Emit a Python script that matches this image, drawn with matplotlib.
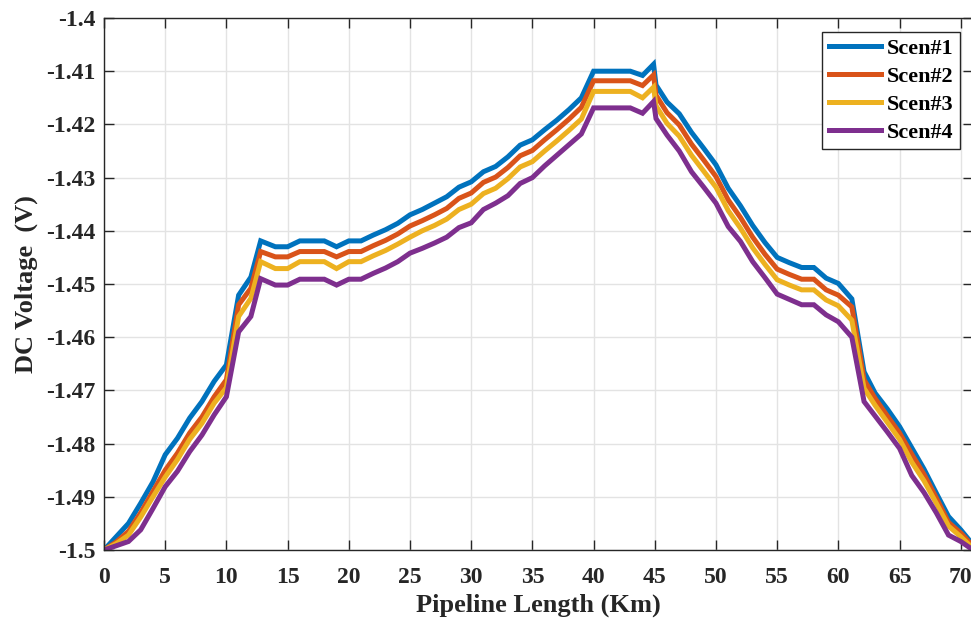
import matplotlib
matplotlib.use("Agg")
import matplotlib.pyplot as plt
from matplotlib.ticker import FuncFormatter

plt.rcParams['font.family'] = ['Liberation Serif', 'DejaVu Serif']
plt.rcParams['axes.unicode_minus'] = False

x_km = [0, 1, 2, 3, 4, 5, 6, 7, 8, 9, 10, 11, 12, 12.8, 14, 15, 16, 17, 18, 19, 20,
        21, 22, 23, 24, 25, 26, 27, 28, 29, 30, 31, 32, 33, 34, 35, 36, 37, 38, 39, 40,
        41, 42, 43, 44, 44.9, 45.1, 46, 47, 48, 49, 50, 51, 52, 53, 54, 55, 56, 57, 58,
        59, 60, 61.1, 62.1, 63, 64, 65, 66, 67, 68, 69, 70, 71]

scen1 = [-1.5, -1.4975, -1.4950, -1.4912, -1.4872, -1.4821, -1.4790, -1.4752, -1.4721, -1.4683, -1.4652,
         -1.4521, -1.4487, -1.4419, -1.4430, -1.4430, -1.4419, -1.4419, -1.4419, -1.4430, -1.4419,
         -1.4419, -1.4408, -1.4398, -1.4386, -1.4370, -1.4360, -1.4348, -1.4336, -1.4318, -1.4308,
         -1.4289, -1.4279, -1.4261, -1.4239, -1.4229, -1.4210, -1.4192, -1.4172, -1.4150, -1.4100,
         -1.4100, -1.4100, -1.4100, -1.4108, -1.4087, -1.4126, -1.4158, -1.4180, -1.4215, -1.4245,
         -1.4276, -1.4320, -1.4353, -1.4390, -1.4422, -1.4450, -1.4460, -1.4469, -1.4469, -1.4489,
         -1.4499, -1.4528, -1.4665, -1.4705, -1.4735, -1.4768, -1.4808, -1.4848, -1.4893, -1.4937,
         -1.4962, -1.4990]

scen2 = [-1.5, -1.4985, -1.4965, -1.4930, -1.4890, -1.4850, -1.4818, -1.4780, -1.4750, -1.4712, -1.4680,
         -1.4539, -1.4508, -1.4439, -1.4449, -1.4449, -1.4439, -1.4439, -1.4439, -1.4449, -1.4439,
         -1.4439, -1.4428, -1.4418, -1.4406, -1.4391, -1.4381, -1.4370, -1.4358, -1.4339, -1.4329,
         -1.4309, -1.4299, -1.4281, -1.4259, -1.4249, -1.4229, -1.4210, -1.4190, -1.4168, -1.4118,
         -1.4118, -1.4118, -1.4118, -1.4127, -1.4107, -1.4145, -1.4178, -1.4201, -1.4237, -1.4267,
         -1.4298, -1.4342, -1.4375, -1.4412, -1.4444, -1.4472, -1.4482, -1.4491, -1.4491, -1.4511,
         -1.4521, -1.4543, -1.4680, -1.4715, -1.4748, -1.4780, -1.4820, -1.4858, -1.4902, -1.4948,
         -1.4968, -1.4993]

scen3 = [-1.5, -1.4988, -1.4972, -1.4938, -1.4900, -1.4863, -1.4830, -1.4792, -1.4762, -1.4724, -1.4695,
         -1.4561, -1.4527, -1.4458, -1.4471, -1.4471, -1.4458, -1.4458, -1.4458, -1.4471, -1.4458,
         -1.4458, -1.4447, -1.4437, -1.4425, -1.4412, -1.4400, -1.4390, -1.4378, -1.4360, -1.4350,
         -1.4330, -1.4320, -1.4302, -1.4280, -1.4270, -1.4250, -1.4231, -1.4211, -1.4190, -1.4138,
         -1.4138, -1.4138, -1.4138, -1.4150, -1.4130, -1.4165, -1.4198, -1.4222, -1.4258, -1.4288,
         -1.4318, -1.4362, -1.4395, -1.4432, -1.4463, -1.4492, -1.4502, -1.4511, -1.4511, -1.4530,
         -1.4541, -1.4568, -1.4696, -1.4728, -1.4760, -1.4792, -1.4835, -1.4870, -1.4912, -1.4955,
         -1.4975, -1.4997]

scen4 = [-1.5, -1.4992, -1.4984, -1.4962, -1.4922, -1.4881, -1.4852, -1.4815, -1.4784, -1.4746, -1.4712,
         -1.4590, -1.4561, -1.4490, -1.4502, -1.4502, -1.4491, -1.4491, -1.4491, -1.4502, -1.4491,
         -1.4491, -1.4480, -1.4470, -1.4458, -1.4442, -1.4433, -1.4423, -1.4412, -1.4394, -1.4385,
         -1.4360, -1.4348, -1.4334, -1.4311, -1.4300, -1.4278, -1.4258, -1.4238, -1.4218, -1.4169,
         -1.4169, -1.4169, -1.4169, -1.4179, -1.4157, -1.4189, -1.4220, -1.4250, -1.4289, -1.4318,
         -1.4348, -1.4392, -1.4420, -1.4458, -1.4488, -1.4519, -1.4529, -1.4539, -1.4539, -1.4558,
         -1.4571, -1.4600, -1.4721, -1.4748, -1.4778, -1.4809, -1.4860, -1.4892, -1.4930, -1.4972,
         -1.4984, -1.5000]

series = [scen1, scen2, scen3, scen4]
labels = ['Scen#1', 'Scen#2', 'Scen#3', 'Scen#4']
colors = ['#0072BD', '#D95319', '#EDB120', '#7E2F8E']

x_ticks = [0, 5, 10, 15, 20, 25, 30, 35, 40, 45, 50, 55, 60, 65, 70]
y_ticks = [-1.5, -1.49, -1.48, -1.47, -1.46, -1.45, -1.44, -1.43, -1.42, -1.41, -1.4]

fig = plt.figure(figsize=(9.71, 6.28), dpi=100)
ax = fig.add_axes([104/971, 78/628, 869/971, 532/628])

for y, lab, c in zip(series, labels, colors):
    ax.plot(x_km, y, color=c, lw=3.6, label=lab, solid_joinstyle='miter')

ax.set_xlim(0, 71)
ax.set_ylim(-1.5, -1.4)
ax.set_xticks(x_ticks)
ax.set_yticks(y_ticks)
ax.yaxis.set_major_formatter(FuncFormatter(lambda v, p: ('%g' % round(v, 3))))
ax.grid(True, color='#e3e3e3', lw=1.0)
ax.set_axisbelow(True)
ax.tick_params(direction='in', length=7, width=1.0, top=True, right=True,
               labelsize=17, colors='#262626')
ax.tick_params(axis='x', pad=12)
ax.tick_params(axis='y', pad=6)
for lab in ax.get_xticklabels() + ax.get_yticklabels():
    lab.set_fontweight('bold')
for s in ax.spines.values():
    s.set_color('#262626')
    s.set_linewidth(1.0)

ax.set_xlabel('Pipeline Length (Km)', fontsize=19, fontweight='bold', color='#262626', labelpad=4)
ax.set_ylabel('DC Voltage  (V)', fontsize=19, fontweight='bold', color='#262626', labelpad=6)

leg = ax.legend(loc='upper right', bbox_to_anchor=(0.985, 0.974), borderaxespad=0,
                prop={'weight': 'bold', 'size': 16}, fancybox=False, framealpha=1,
                edgecolor='#262626', handlelength=2.35, handletextpad=0.25,
                labelspacing=0.33, borderpad=0.3)
leg.get_frame().set_linewidth(1.0)

fig.savefig('out.png', dpi=100)
